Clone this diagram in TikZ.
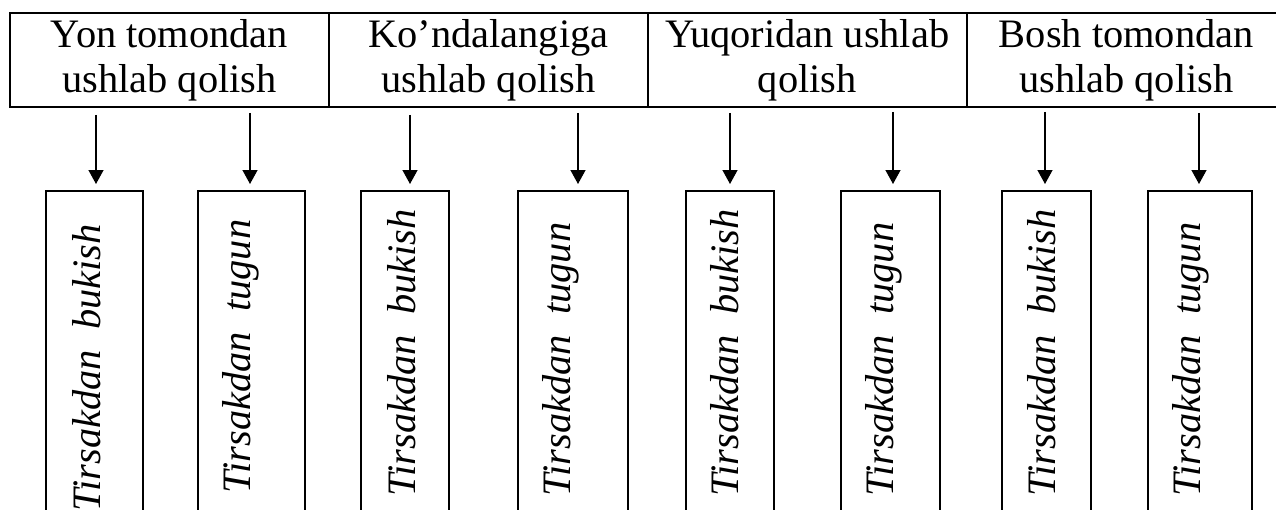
\documentclass[tikz,border=0pt]{standalone}
\usepackage{fontspec}
\setmainfont{Liberation Serif}
\usepackage{tikz}
\usetikzlibrary{arrows.meta, positioning}

\begin{document}
\begin{tikzpicture}[x=0.02cm, y=-0.02cm,
    head/.style={draw, line width=0.75pt, minimum width=6.38cm, minimum height=1.88cm,
        inner sep=0pt, outer sep=0pt, align=center, font=\fontsize{23}{25.6}\selectfont,
        execute at begin node=\rule{0pt}{0.67cm}},
    stolb/.style={draw, line width=0.75pt, anchor=north west, minimum height=6.8cm,
        inner sep=0pt, outer sep=0pt},
    yozuv/.style={rotate=90, anchor=base west, inner sep=0pt,
        font=\fontsize{23}{25.6}\selectfont\itshape},
    strelka/.style={-{Triangle[width=0.3cm, length=0.28cm]}, line width=0.75pt, shorten >=0.14cm}]
    \useasboundingbox (0,0) rectangle (1276,510);
    \clip (0,0) rectangle (1276,510);

    % 1. Yuqori qator
    \node[head] (h1) at (169.5,60) {Yon tomondan\\ushlab qolish};
    \node[head, right=0pt of h1] (h2) {Ko’ndalangiga\\ushlab qolish};
    \node[head, right=0pt of h2] (h3) {Yuqoridan ushlab\\qolish};
    \node[head, right=0pt of h3] (h4) {Bosh tomondan\\ushlab qolish};

    % 2. Pastki ustunlar
    \foreach \n/\x/\w in {1/46/1.94, 2/198/2.14, 3/361/1.76, 4/518/2.20,
                          5/686/1.76, 6/841/1.98, 7/1002/1.78, 8/1148/2.08}
        \node[stolb, minimum width=\w cm] (b\n) at (\x,191) {};

    % ustundagi yozuvlar
    \foreach \n/\x/\y/\t in {1/100/512/bukish, 2/250/494/tugun, 3/415/497/bukish, 4/570/497/tugun,
                             5/738/497/bukish, 6/893/497/tugun, 7/1055/497/bukish, 8/1200/497/tugun}
        \node[yozuv] (l\n) at (\x,\y) {Tirsakdan~~\t};

    % 3. Strelkalar
    \foreach \n/\x/\y in {1/96/115, 2/250/113, 3/410/115, 4/578/113,
                          5/730/113, 6/893/112, 7/1045/112, 8/1199/113}
    {
        \coordinate (s\n) at (\x,\y);
        \draw[strelka] (s\n) -- (s\n |- b\n.north);
    }
\end{tikzpicture}
\end{document}
